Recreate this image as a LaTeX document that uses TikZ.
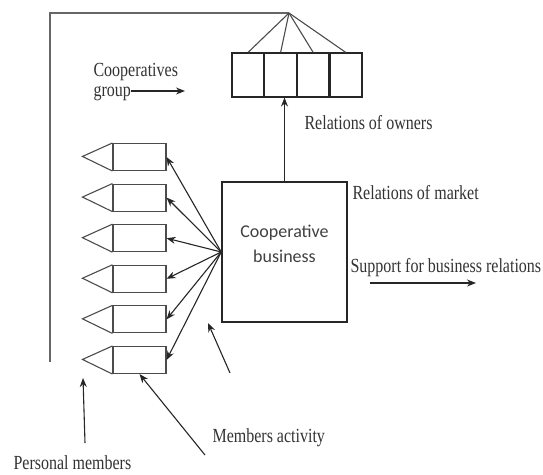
\documentclass[tikz,border=0pt]{standalone}
\usepackage{fontspec}
\setmainfont{Liberation Serif}[FakeStretch=0.8]
\newfontfamily\boxfont{Carlito}
\usetikzlibrary{arrows.meta,calc,positioning}

\tikzset{
	tab/.style={draw,minimum width=53pt,minimum height=27pt,inner sep=0pt},
	cell/.style={draw,minimum width=31.5pt,minimum height=44pt,inner sep=0pt},
	lbl/.style={anchor=west,inner sep=0pt,text=black!80,font=\fontsize{20}{22}\selectfont}
}

\begin{document}
\begin{tikzpicture}[x=1pt,y=-1pt,>={Stealth[length=9pt,width=7pt]},
			line width=1.1pt,draw=black!85]
	\useasboundingbox (0,0) rectangle (543,474);
	% owners
	\node[cell] (c1) at (248,75) {};
	\node[cell] (c2) [right=0pt of c1] {};
	\node[cell] (c3) [right=0pt of c2] {};
	\node[cell] (c4) [right=0pt of c3] {};
	\draw[line width=1.6pt] (c1.north west) rectangle (c4.south east);
	\coordinate (apex) at (289,13);
	\coordinate (corner) at (50,13);
	\coordinate (frameend) at (50,362);
	\draw[draw=black!60] (frameend) -- (corner) -- (apex);
	\foreach \c in {c1,c2,c3,c4}
		\draw[draw=black!70] (apex) -- (\c.north);
	% business
	\node[draw,line width=1.6pt,minimum width=125pt,minimum height=140pt] (biz) at (284.5,252) {};
	\node[align=center,text=black!75,font=\boxfont\fontsize{18}{25}\selectfont]
		(biztext) at ($(biz.center)+(0,-8)$) {Cooperative\\business};
	\draw[->] (biz.north) -- (biz.north |- c1.south);
	% members
	\foreach \i in {1,...,6} {
		\node[tab,draw=black!70] (m\i) at (139.5,{157+(\i-1)*40.6}) {};
		\draw[draw=black!70] (m\i.north west) -- ++(-30,13.5) -- (m\i.south west);
		\draw[->] (biz.west) -- (m\i.east);
	}
	% labels
	\node[lbl,align=left,anchor=base west,font=\fontsize{20}{20}\selectfont] (grp) at (93,96)
		{Cooperatives\\group};
	\coordinate (grpstart) at (131,91);
	\coordinate (grpend) at (185,91);
	\draw[->] (grpstart) -- (grpend);
	\node[lbl] (own) at (304,123) {Relations of owners};
	\node[lbl] (mkt) at (352,193) {Relations of market};
	\node[lbl] (sup) at (350,268) {Support for business relations};
	\coordinate (sup1) at (370,283);
	\coordinate (sup2) at (476,283);
	\draw[->] (sup1) -- (sup2);
	\node[lbl] (act) at (212,438) {Members activity};
	\node[lbl] (pers) at (13,463) {Personal members};
	\coordinate (act1) at (230,373);
	\coordinate (act2) at (208,323);
	\coordinate (act3) at (205,455);
	\coordinate (pers1) at (85,443);
	\coordinate (pers2) at (83,378);
	\draw[->] (act1) -- (act2);
	\draw[->] (act3) -- (m6.south);
	\draw[->] (pers1) -- (pers2);
\end{tikzpicture}
\end{document}
